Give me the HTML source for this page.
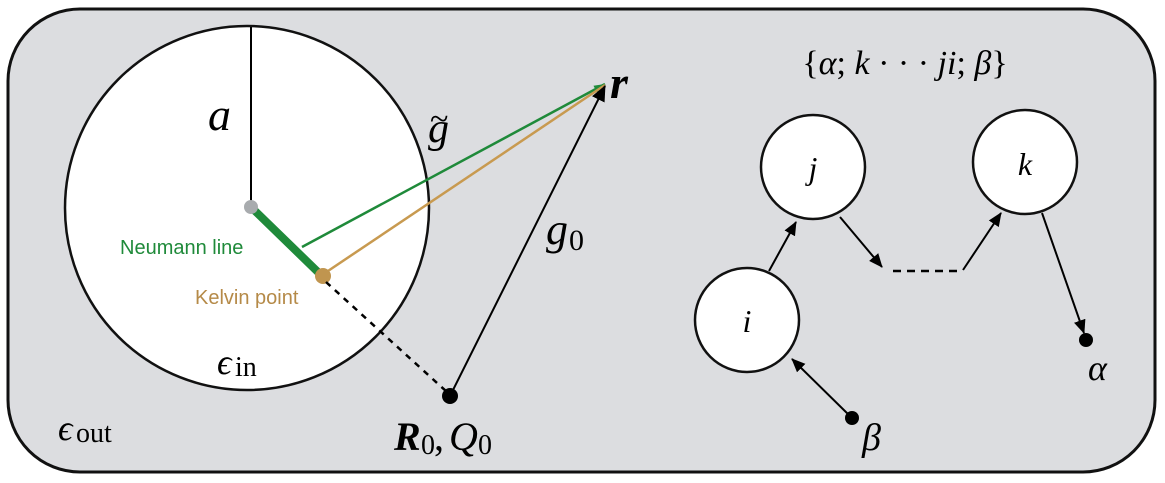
<!DOCTYPE html>
<html><head><meta charset="utf-8"><style>
html,body{margin:0;padding:0;background:#fff;}
svg{display:block;}
.m{font-family:"Liberation Serif","DejaVu Serif",serif;font-style:italic;fill:#000;}
.n{font-style:normal;}
.s{font-family:"Liberation Sans",sans-serif;}
</style></head><body>
<svg width="1165" height="483" viewBox="0 0 1165 483" xmlns="http://www.w3.org/2000/svg">
<defs>
<marker id="ab" markerWidth="14" markerHeight="14" refX="13" refY="7" orient="auto" markerUnits="userSpaceOnUse"><path d="M0,1 L14,7 L0,13 z" fill="#000"/></marker>
<marker id="ag" markerWidth="12" markerHeight="10" refX="11" refY="5" orient="auto" markerUnits="userSpaceOnUse"><path d="M0,1 L11,5 L0,9 z" fill="#1f8a3a"/></marker>
<marker id="ak" markerWidth="16" markerHeight="16" refX="15" refY="8" orient="auto" markerUnits="userSpaceOnUse"><path d="M0,1 L16,8 L0,15 z" fill="#000"/></marker>
</defs>
<rect x="8" y="9" width="1147" height="463" rx="72" fill="#dcdde0" stroke="#111" stroke-width="3"/>
<circle cx="247" cy="208" r="182" fill="#fff" stroke="#111" stroke-width="2.5"/>
<line x1="251" y1="27" x2="251" y2="207" stroke="#000" stroke-width="2"/>
<line x1="251" y1="207" x2="322" y2="276" stroke="#1f8a3a" stroke-width="8"/>
<circle cx="251" cy="207" r="7" fill="#a8abae"/>
<line x1="302" y1="247" x2="605" y2="84" stroke="#1f8a3a" stroke-width="2.5" marker-end="url(#ag)"/>
<line x1="322" y1="275" x2="605" y2="85" stroke="#c89a50" stroke-width="2.5"/>
<circle cx="323" cy="276" r="8" fill="#c0954f"/>
<line x1="326" y1="282" x2="447" y2="392" stroke="#000" stroke-width="2.5" stroke-dasharray="6,6"/>
<line x1="450" y1="396" x2="605" y2="86" stroke="#000" stroke-width="2" marker-end="url(#ak)"/>
<circle cx="450" cy="396" r="8" fill="#000"/>
<text x="208" y="130" class="m" font-size="46">a</text>
<text x="428" y="142" class="m" font-size="42">g</text>
<text x="430" y="130" class="m n" font-size="34">~</text>
<text x="546" y="244" class="m" font-size="44">g</text><text x="569" y="250" class="m n" font-size="30">0</text>
<text x="610" y="98" class="m" font-size="46" font-weight="bold">r</text>
<text x="120" y="254" class="s" font-size="20" fill="#1f8a3a">Neumann line</text>
<text x="195" y="304" class="s" font-size="20" fill="#b58a48">Kelvin point</text>
<text x="217" y="374" class="m" font-size="36">ϵ</text><text x="235" y="376" class="m n" font-size="28">in</text>
<text x="58" y="440" class="m" font-size="36">ϵ</text><text x="76" y="442" class="m n" font-size="28">out</text>
<text x="394" y="450" class="m" font-size="40" font-weight="bold">R</text><text x="421" y="454" class="m n" font-size="28">0</text><text x="434" y="450" class="m n" font-size="40">,</text><text x="449" y="450" class="m" font-size="40">Q</text><text x="478" y="454" class="m n" font-size="28">0</text>
<text x="905" y="74" class="m" font-size="34" text-anchor="middle"><tspan class="n">{</tspan>α<tspan class="n">;</tspan> k <tspan class="n">· · ·</tspan> ji<tspan class="n">;</tspan> β<tspan class="n">}</tspan></text>
<circle cx="813" cy="167" r="52" fill="#fff" stroke="#111" stroke-width="2.5"/>
<circle cx="1025" cy="162" r="52" fill="#fff" stroke="#111" stroke-width="2.5"/>
<circle cx="747" cy="320" r="52" fill="#fff" stroke="#111" stroke-width="2.5"/>
<text x="813" y="179" class="m" font-size="32" text-anchor="middle">j</text>
<text x="1025" y="175" class="m" font-size="32" text-anchor="middle">k</text>
<text x="747" y="332" class="m" font-size="32" text-anchor="middle">i</text>
<line x1="769" y1="271" x2="796" y2="222" stroke="#000" stroke-width="2" marker-end="url(#ab)"/>
<line x1="840" y1="217" x2="882" y2="267" stroke="#000" stroke-width="2" marker-end="url(#ab)"/>
<line x1="893" y1="271" x2="962" y2="271" stroke="#000" stroke-width="2.5" stroke-dasharray="8,6"/>
<line x1="963" y1="270" x2="1001" y2="213" stroke="#000" stroke-width="2" marker-end="url(#ab)"/>
<line x1="1042" y1="213" x2="1084" y2="333" stroke="#000" stroke-width="2" marker-end="url(#ab)"/>
<circle cx="1086" cy="340" r="7" fill="#000"/>
<text x="1088" y="380" class="m" font-size="36">α</text>
<line x1="851" y1="417" x2="792" y2="359" stroke="#000" stroke-width="2" marker-end="url(#ab)"/>
<circle cx="852" cy="418" r="7" fill="#000"/>
<text x="862" y="450" class="m" font-size="38">β</text>
</svg>
</body></html>
